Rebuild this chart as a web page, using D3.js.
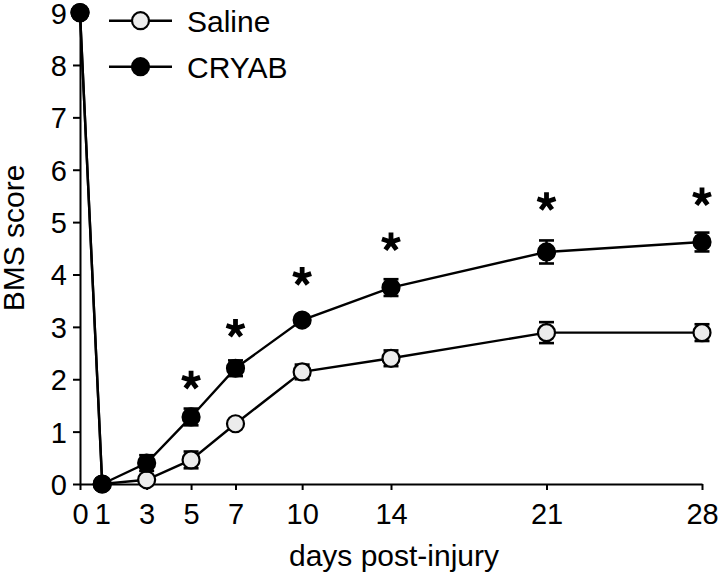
<!DOCTYPE html>
<html>
<head>
<meta charset="utf-8">
<script src="https://cdn.jsdelivr.net/npm/d3@7"></script>
<style>
  body { margin: 0; background: #fff; }
  svg { font-family: "Liberation Sans", Arial, sans-serif; }
</style>
</head>
<body>
<div id="chart"></div>
<script>
// days after injury and BMS scores (mean, SEM)
const days = [0, 1, 3, 5, 7, 10, 14, 21, 28];
const salineMean = [9, 0, 0.08, 0.46, 1.15, 2.14, 2.40, 2.89, 2.89];
const salineSem = [0, 0, 0.05, 0.16, 0.08, 0.14, 0.15, 0.20, 0.16];
const cryabMean = [9, 0, 0.40, 1.28, 2.21, 3.13, 3.75, 4.43, 4.62];
const cryabSem = [0, 0, 0.15, 0.16, 0.15, 0.08, 0.16, 0.22, 0.18];
// significance stars
const starDays = [5, 7, 10, 14, 21, 28];
const starLevels = [1.98, 2.97, 3.96, 4.62, 5.39, 5.48];
const yTicks = [0, 1, 2, 3, 4, 5, 6, 7, 8, 9];

const width = 720, height = 580;

const svg = d3.select("#chart")
    .append("svg")
    .attr("width", width)
    .attr("height", height);

const x = d3.scaleLinear().domain([0, 28]).range([80, 702]);
const y = d3.scaleLinear().domain([0, 9]).range([484, 12.6]);

// axes
const xAxis = svg.append("g")
    .attr("transform", `translate(0, ${y(0)})`)
    .call(d3.axisBottom(x).tickValues(days).tickSizeInner(6).tickSizeOuter(0).tickPadding(8));

const yAxis = svg.append("g")
    .attr("transform", `translate(${x(0)}, 0)`)
    .call(d3.axisLeft(y).tickValues(yTicks).tickSizeInner(7).tickSizeOuter(0).tickPadding(6));

[xAxis, yAxis].forEach(a => {
    a.selectAll("path, line").attr("stroke", "#000").attr("stroke-width", 2);
    a.selectAll("text").attr("fill", "#000").style("font-size", "29px")
        .style("font-family", '"Liberation Sans", Arial, sans-serif');
});
xAxis.selectAll("text").attr("dy", "0.9em");
yAxis.selectAll("text").attr("dy", "0.36em");

// axis titles
svg.append("text")
    .attr("x", 394)
    .attr("y", 566)
    .attr("text-anchor", "middle")
    .style("font-size", "30px")
    .text("days post-injury");

svg.append("text")
    .attr("transform", "translate(24, 238) rotate(-90)")
    .attr("text-anchor", "middle")
    .style("font-size", "30px")
    .text("BMS score");

const line = d3.line().x(d => x(d.day)).y(d => y(d.mean));

function drawSeries(mean, sem, fill) {
    const pts = days.map((d, i) => ({ day: d, mean: mean[i], sem: sem[i] }));
    const g = svg.append("g");
    g.append("path")
        .datum(pts)
        .attr("d", line)
        .attr("fill", "none")
        .attr("stroke", "#000")
        .attr("stroke-width", 2.4);

    // error bars
    const eb = g.selectAll(".eb")
        .data(pts.filter(p => p.sem > 0))
        .enter()
        .append("g");
    eb.append("line")
        .attr("x1", d => x(d.day)).attr("x2", d => x(d.day))
        .attr("y1", d => y(d.mean - d.sem)).attr("y2", d => y(d.mean + d.sem))
        .attr("stroke", "#000").attr("stroke-width", 2.4);
    [-1, 1].forEach(s => {
        eb.append("line")
            .attr("x1", d => x(d.day) - 7.5).attr("x2", d => x(d.day) + 7.5)
            .attr("y1", d => y(d.mean + s * d.sem)).attr("y2", d => y(d.mean + s * d.sem))
            .attr("stroke", "#000").attr("stroke-width", 2.6);
    });

    g.selectAll("circle")
        .data(pts)
        .enter()
        .append("circle")
        .attr("cx", d => x(d.day))
        .attr("cy", d => y(d.mean))
        .attr("r", 8.5)
        .attr("fill", fill)
        .attr("stroke", "#000")
        .attr("stroke-width", 2.2);
}

drawSeries(salineMean, salineSem, "#ececec");
drawSeries(cryabMean, cryabSem, "#000");

// asterisks, five arms
function asterisk(cx, cy, r) {
    const p = d3.path();
    for (let k = 0; k < 5; k++) {
        const a = -Math.PI / 2 + k * 2 * Math.PI / 5;
        p.moveTo(cx, cy);
        p.lineTo(cx + r * Math.cos(a), cy + r * Math.sin(a));
    }
    return p.toString();
}

svg.append("g")
    .selectAll("path")
    .data(starDays.map((d, i) => ({ day: d, level: starLevels[i] })))
    .enter()
    .append("path")
    .attr("d", d => asterisk(x(d.day), y(d.level), 9.5))
    .attr("stroke", "#000")
    .attr("stroke-width", 4.8)
    .attr("fill", "none");

// legend
const legend = [
    { label: "Saline", fill: "#ececec", yPos: 20.7 },
    { label: "CRYAB", fill: "#000", yPos: 66.7 }
];
const lg = svg.append("g")
    .selectAll("g")
    .data(legend)
    .enter()
    .append("g");
lg.append("line")
    .attr("x1", 109).attr("x2", 172)
    .attr("y1", d => d.yPos).attr("y2", d => d.yPos)
    .attr("stroke", "#000").attr("stroke-width", 2.4);
lg.append("circle")
    .attr("cx", 140.5).attr("cy", d => d.yPos)
    .attr("r", 8.5)
    .attr("fill", d => d.fill)
    .attr("stroke", "#000").attr("stroke-width", 2.2);
lg.append("text")
    .attr("x", 187)
    .attr("y", d => d.yPos)
    .attr("dy", "0.36em")
    .style("font-size", "30px")
    .text(d => d.label);
</script>
</body>
</html>
